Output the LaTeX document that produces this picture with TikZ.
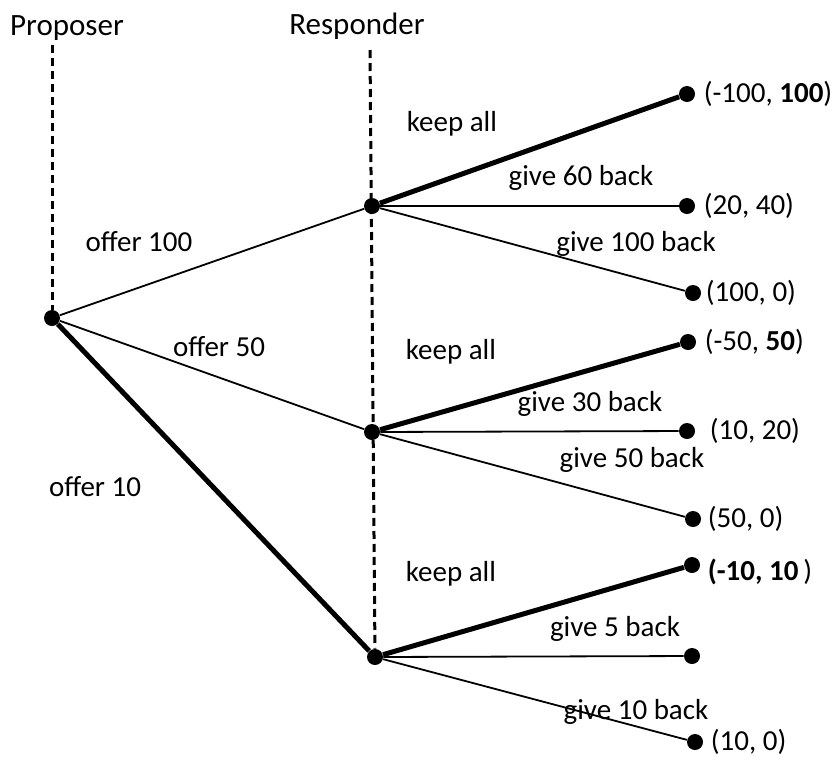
\documentclass[tikz,border=0pt]{standalone}
\usepackage{fontspec}
\setmainfont{Carlito}
\begin{document}
\begin{tikzpicture}[x=0.5pt, y=-0.5pt,
        dot/.style={circle, fill, inner sep=0pt, minimum size=8pt},
        txt/.style={inner sep=0pt, font=\fontsize{14.5}{17}\selectfont},
        player/.style={inner sep=0pt, font=\fontsize{15.5}{18}\selectfont},
        pay/.style={txt, anchor=west},
        turn/.style={dash pattern=on 4pt off 2.5pt, line width=1.5pt},
        move/.style={line width=0.9pt},
        best/.style={line width=2.5pt}]
        \useasboundingbox (0,0) rectangle (834,756);

        % players
        \node[player] (proposer) at (67,28) {Proposer};
        \node[player] (responder) at (357,26) {Responder};
        \coordinate (ptop) at (52,45);
        \coordinate (rtop) at (370,50);

        % decision points
        \node[dot] (root) at (52,318) {};
        \node[dot] (r1) at (372,206) {};
        \node[dot] (r2) at (372,432) {};
        \node[dot] (r3) at (375,657) {};

        % leaves
        \node[dot] (l11) at (687,94) {};
        \node[dot] (l12) at (687,206) {};
        \node[dot] (l13) at (693,293) {};
        \node[dot] (l21) at (688,342) {};
        \node[dot] (l22) at (687,431) {};
        \node[dot] (l23) at (693,519) {};
        \node[dot] (l31) at (692,565) {};
        \node[dot] (l32) at (692,656) {};
        \node[dot] (l33) at (695,742) {};

        \draw[turn] (ptop) -- (root);
        \draw[turn] (rtop) -- (r3);

        \draw[move] (root) -- (r1);
        \draw[move] (root) -- (r2);
        \draw[best] (root) -- (r3);

        \draw[best] (r1) -- (l11);
        \draw[move] (r1) -- (l12);
        \draw[move] (r1) -- (l13);
        \draw[best] (r2) -- (l21);
        \draw[move] (r2) -- (l22);
        \draw[move] (r2) -- (l23);
        \draw[best] (r3) -- (l31);
        \draw[move] (r3) -- (l32);
        \draw[move] (r3) -- (l33);

        % labels
        \node[txt] at (139,242) {offer 100};
        \node[txt] at (219,347) {offer 50};
        \node[txt] at (95,487) {offer 10};

        \node[txt] at (452,124) {keep all};
        \node[txt] at (581,178) {give 60 back};
        \node[txt] at (636,244) {give 100 back};
        \node[txt] at (451,352) {keep all};
        \node[txt] at (590,404) {give 30 back};
        \node[txt] at (632,460) {give 50 back};
        \node[txt] at (451,574) {keep all};
        \node[txt] at (615,629) {give 5 back};
        \node[txt] at (636,712) {give 10 back};

        % payoffs
        \node[pay] at ([xshift=4pt]l11.east) {(-100, \textbf{100})};
        \node[pay] at ([xshift=4pt]l12.east) {(20, 40)};
        \node[pay] at ([xshift=2pt]l13.east) {(100, 0)};
        \node[pay] at ([xshift=4pt]l21.east) {(-50, \textbf{50})};
        \node[pay] at ([xshift=7pt]l22.east) {(10, 20)};
        \node[pay] at ([xshift=3pt]l23.east) {(50, 0)};
        \node[pay] at ([xshift=3.5pt,yshift=-3.5pt]l31.east) {\textbf{(-10, 10}\,)};
        \node[pay] at ([xshift=3.5pt]l33.east) {(10, 0)};
\end{tikzpicture}
\end{document}
